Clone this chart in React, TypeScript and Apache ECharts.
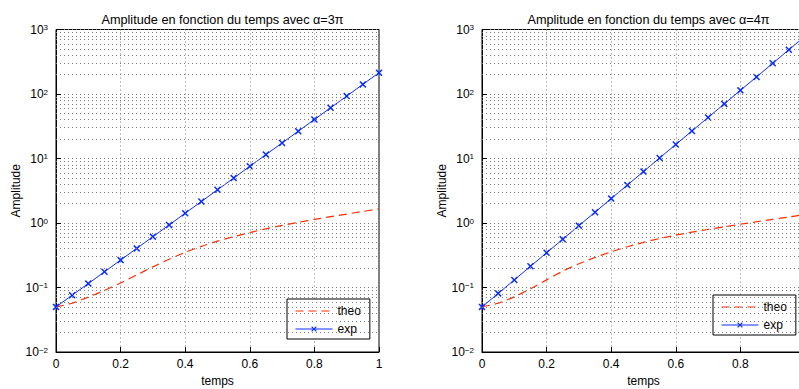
import React, { useEffect, useRef } from 'react';
import * as echarts from 'echarts';

const temps = [0, 0.05, 0.1, 0.15, 0.2, 0.25, 0.3, 0.35, 0.4, 0.45, 0.5, 0.55, 0.6, 0.65, 0.7, 0.75, 0.8, 0.85, 0.9, 0.95, 1];
const theo3 = [0.05, 0.057, 0.0708, 0.0902, 0.1175, 0.1567, 0.2089, 0.2742, 0.3508, 0.4345, 0.5224, 0.6138, 0.7112, 0.8128, 0.9162, 1.023, 1.135, 1.253, 1.377, 1.51, 1.656];
const exp3 = [0.05, 0.076, 0.115, 0.175, 0.266, 0.404, 0.614, 0.93, 1.42, 2.15, 3.27, 4.97, 7.55, 11.5, 17.4, 26.5, 40.2, 61.1, 92.8, 141, 214];
const theo4 = [0.05, 0.0569, 0.0716, 0.0955, 0.1312, 0.1791, 0.2333, 0.2924, 0.3581, 0.4285, 0.5, 0.5741, 0.6486, 0.7211, 0.7943, 0.873, 0.9572, 1.0447, 1.1376, 1.2388, 1.3521];
const exp4 = [0.05, 0.081, 0.131, 0.213, 0.345, 0.56, 0.91, 1.47, 2.39, 3.87, 6.27, 10.2, 16.5, 26.7, 43.3, 70.2, 114, 184, 299, 485, 786];
const minorY = [
  0.02, 0.03, 0.04, 0.05, 0.06, 0.07, 0.08, 0.09,
  0.2, 0.3, 0.4, 0.5, 0.6, 0.7, 0.8, 0.9,
  2, 3, 4, 5, 6, 7, 8, 9,
  20, 30, 40, 50, 60, 70, 80, 90,
  200, 300, 400, 500, 600, 700, 800, 900,
];
const titles = ['Amplitude en fonction du temps avec α=3π', 'Amplitude en fonction du temps avec α=4π'];
const seriesNames = ['theo', 'exp'];
const xLabel = 'temps';
const yLabel = 'Amplitude';

const FONT = '"Liberation Sans", Arial, Helvetica, sans-serif';
const RED = '#ff2a00';
const BLUE = '#0a2cff';
const GRIDC = '#7a7a7a';
const CROSS = 'path://M0,1.5L1.5,0L5,3.5L8.5,0L10,1.5L6.5,5L10,8.5L8.5,10L5,6.5L1.5,10L0,8.5L3.5,5Z';

const panels = [
  { left: 56, theo: theo3, exp: exp3, legendLeft: 287, legendTop: 299, showLast: true },
  { left: 482, theo: theo4, exp: exp4, legendLeft: 713, legendTop: 295, showLast: false },
];
const PW = 323;
const PTOP = 29.5;
const PH = 322.5;

function supLabel(v: number) {
  const e = Math.round(Math.log10(v));
  const s = e < 0 ? '\u2212' + String(-e) : String(e);
  return '{b|10}{s|' + s + '}';
}

export default function App() {
  const ref = useRef<HTMLDivElement>(null);
  useEffect(() => {
    document.body.style.margin = '0';
    const chart = echarts.init(ref.current!, null, { renderer: 'svg' });
    const dotted = { color: GRIDC, width: 1, type: [1, 3] as number[] };
    const option: any = {
      animation: false,
      backgroundColor: '#fff',
      textStyle: { fontFamily: FONT, color: '#000' },
      title: panels.map((p, i) => ({
        text: titles[i],
        left: p.left + PW / 2,
        textAlign: 'center',
        top: 8,
        textStyle: { fontFamily: FONT, fontSize: 12.7, fontWeight: 'normal', color: '#000' },
      })),
      legend: panels.map((p) => ({
        data: [
          { name: seriesNames[0], itemStyle: { opacity: 0 } },
          { name: seriesNames[1] },
        ],
        orient: 'vertical',
        left: p.legendLeft,
        top: p.legendTop,
        padding: [6, 9, 4, 8],
        itemGap: 6,
        itemWidth: 37,
        itemHeight: 7,
        selectedMode: false,
        backgroundColor: '#fff',
        borderColor: '#000',
        borderWidth: 1,
        borderRadius: 0,
        lineStyle: { width: 1 },
        textStyle: { fontFamily: FONT, fontSize: 12, color: '#000' },
      })),
      grid: panels.map((p) => ({
        left: p.left,
        top: PTOP,
        width: PW,
        height: PH,
        show: true,
        borderColor: '#000',
        borderWidth: 1,
        backgroundColor: 'transparent',
        containLabel: false,
        outerBoundsMode: 'none',
      })),
      xAxis: panels.map((p, i) => ({
        type: 'value',
        gridIndex: i,
        min: 0,
        max: 1,
        interval: 0.2,
        name: xLabel,
        nameLocation: 'middle',
        nameGap: 20,
        nameTextStyle: { fontFamily: FONT, fontSize: 12, color: '#000' },
        axisLine: { show: true, lineStyle: { color: '#000', width: 1 } },
        axisTick: { show: true, inside: true, length: 5, lineStyle: { color: '#000' } },
        axisLabel: { margin: 6, fontSize: 12, color: '#000', fontFamily: FONT, showMaxLabel: p.showLast, showMinLabel: true },
        splitLine: { show: true, lineStyle: dotted },
      })),
      yAxis: panels.map((p, i) => ({
        type: 'log',
        logBase: 10,
        gridIndex: i,
        min: 0.01,
        max: 1000,
        name: yLabel,
        nameLocation: 'middle',
        nameGap: 32,
        nameTextStyle: { fontFamily: FONT, fontSize: 12, color: '#000' },
        axisLine: { show: true, lineStyle: { color: '#000', width: 1 } },
        axisTick: { show: true, inside: true, length: 5, lineStyle: { color: '#000' } },
        axisLabel: {
          margin: 8,
          formatter: supLabel,
          rich: {
            b: { fontSize: 12, fontFamily: FONT, color: '#000', lineHeight: 12, verticalAlign: 'bottom' },
            s: { fontSize: 8, fontFamily: FONT, color: '#000', lineHeight: 8, verticalAlign: 'top', padding: [0, 0, 6, 0] },
          },
        },
        splitLine: { show: true, lineStyle: dotted },
      })),
      series: panels.flatMap((p, i) => [
        {
          type: 'line',
          name: 'grid' + i,
          xAxisIndex: i,
          yAxisIndex: i,
          data: [],
          z: 1,
          silent: true,
          markLine: {
            silent: true,
            symbol: ['none', 'none'],
            label: { show: false },
            lineStyle: dotted,
            data: minorY.map((v) => ({ yAxis: v })),
          },
        },
        {
          type: 'line',
          name: seriesNames[0],
          xAxisIndex: i,
          yAxisIndex: i,
          data: temps.map((t, k) => [t, p.theo[k]]),
          symbol: 'none',
          smooth: 0.2,
          lineStyle: { color: RED, width: 1.2, type: [8, 5] },
          itemStyle: { color: RED },
          z: 3,
        },
        {
          type: 'line',
          name: seriesNames[1],
          xAxisIndex: i,
          yAxisIndex: i,
          data: temps.map((t, k) => [t, p.exp[k]]),
          symbol: CROSS,
          symbolSize: 7,
          showSymbol: true,
          lineStyle: { color: BLUE, width: 1 },
          itemStyle: { color: BLUE },
          z: 4,
        },
      ]),
    };
    chart.setOption(option);
    return () => chart.dispose();
  }, []);
  return <div ref={ref} style={{ width: 799, height: 389 }} />;
}
